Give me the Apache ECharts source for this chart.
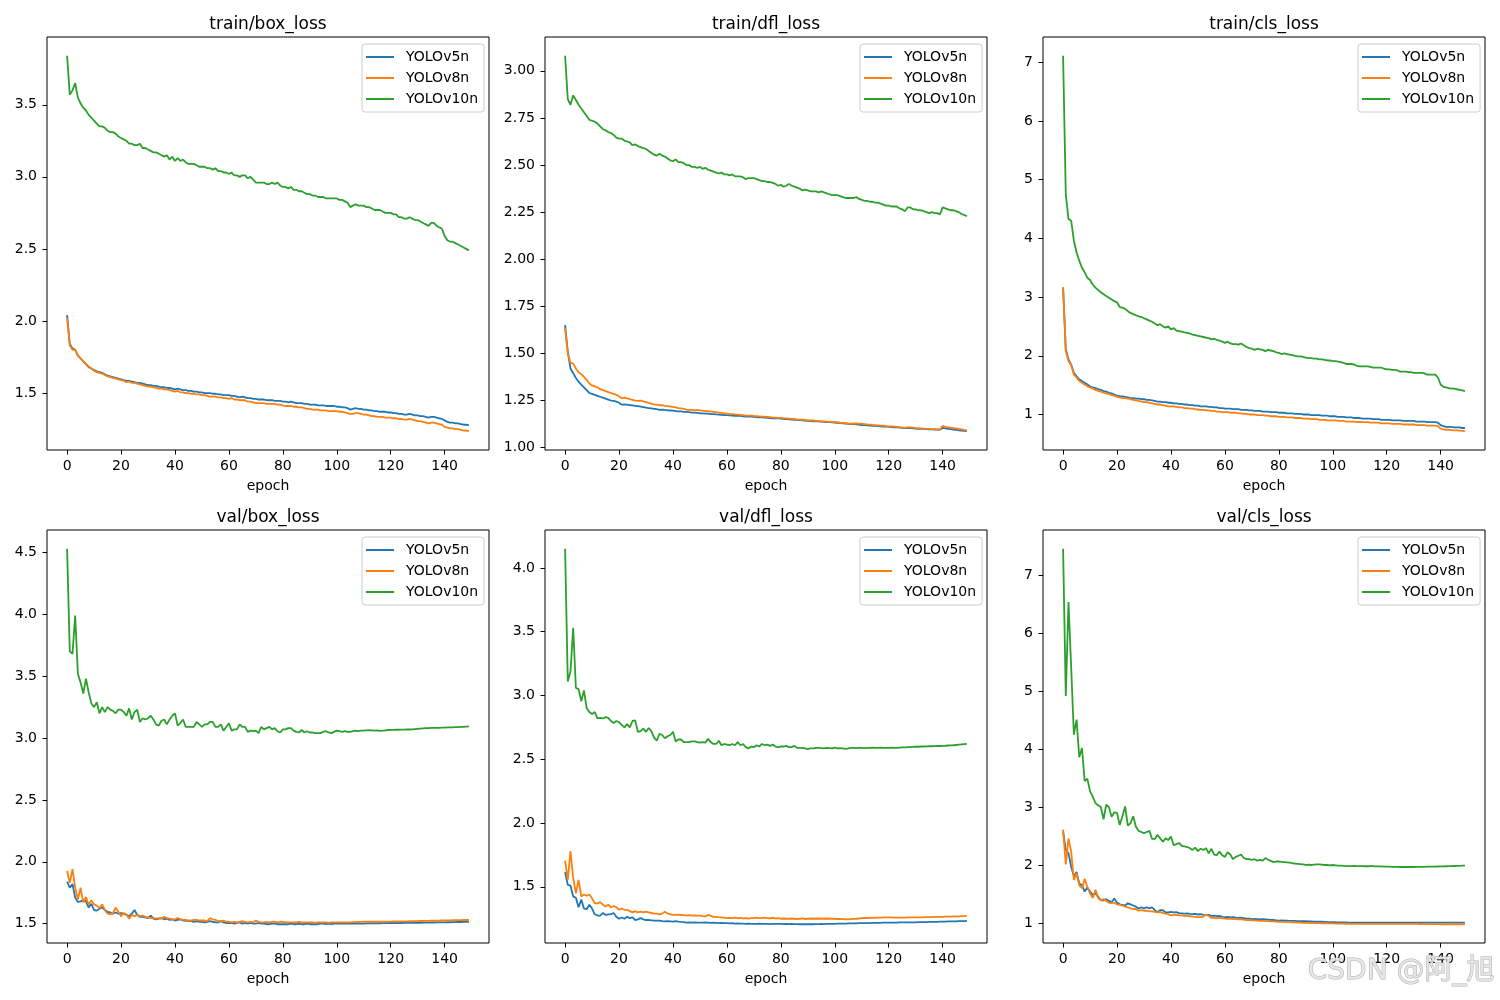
<!DOCTYPE html>
<html><head><meta charset="utf-8">
<script src="https://cdn.jsdelivr.net/npm/echarts@6/dist/echarts.min.js"></script>
<style>html,body{margin:0;padding:0;background:#fff}#c{width:1500px;height:1000px}</style>
</head><body><div id="c"></div>
<script>
const seriesNames = ['YOLOv5n', 'YOLOv8n', 'YOLOv10n'];
const colors = ['#1f77b4', '#ff7f0e', '#2ca02c'];
const panelTitles = ['train/box_loss', 'train/dfl_loss', 'train/cls_loss', 'val/box_loss', 'val/dfl_loss', 'val/cls_loss'];
const xTicks = [0, 20, 40, 60, 80, 100, 120, 140];
const yTicks = [
  [1.5, 2.0, 2.5, 3.0, 3.5],
  [1.00, 1.25, 1.50, 1.75, 2.00, 2.25, 2.50, 2.75, 3.00],
  [1, 2, 3, 4, 5, 6, 7],
  [1.5, 2.0, 2.5, 3.0, 3.5, 4.0, 4.5],
  [1.5, 2.0, 2.5, 3.0, 3.5, 4.0],
  [1, 2, 3, 4, 5, 6, 7]
];
const yDecimals = [1, 2, 0, 1, 1, 0];

// train/box_loss
const trainBox_v5 = [
2.04,1.84,1.81,1.80,1.76,1.74,1.72,1.70,1.68,1.67,
1.66,1.65,1.645,1.64,1.63,1.62,1.615,1.61,1.605,1.60,
1.595,1.59,1.585,1.585,1.58,1.575,1.57,1.57,1.565,1.56,
1.555,1.555,1.55,1.55,1.545,1.54,1.54,1.535,1.535,1.53,
1.525,1.53,1.525,1.52,1.52,1.515,1.515,1.51,1.51,1.505,
1.505,1.50,1.50,1.50,1.495,1.495,1.49,1.49,1.485,1.485,
1.485,1.48,1.48,1.475,1.47,1.475,1.47,1.465,1.465,1.46,
1.46,1.455,1.455,1.455,1.45,1.45,1.45,1.445,1.445,1.445,
1.44,1.44,1.435,1.44,1.435,1.43,1.43,1.43,1.425,1.425,
1.42,1.42,1.42,1.415,1.415,1.415,1.41,1.41,1.41,1.41,
1.405,1.405,1.40,1.40,1.395,1.385,1.39,1.395,1.39,1.39,
1.385,1.385,1.38,1.38,1.375,1.375,1.37,1.37,1.37,1.365,
1.365,1.36,1.36,1.355,1.355,1.35,1.35,1.355,1.35,1.345,
1.345,1.34,1.34,1.335,1.33,1.335,1.335,1.33,1.325,1.32,
1.31,1.30,1.295,1.295,1.29,1.29,1.285,1.28,1.28,1.275];
const trainBox_v8 = [
2.02,1.83,1.80,1.80,1.76,1.74,1.72,1.70,1.685,1.67,
1.655,1.645,1.64,1.635,1.625,1.615,1.61,1.605,1.60,1.595,
1.59,1.585,1.575,1.58,1.57,1.57,1.565,1.56,1.555,1.55,
1.545,1.545,1.54,1.535,1.53,1.53,1.525,1.525,1.52,1.515,
1.51,1.515,1.505,1.505,1.50,1.50,1.495,1.495,1.49,1.49,
1.485,1.485,1.48,1.475,1.475,1.475,1.47,1.47,1.465,1.465,
1.46,1.465,1.455,1.455,1.45,1.45,1.45,1.44,1.44,1.435,
1.43,1.43,1.43,1.43,1.425,1.425,1.425,1.425,1.42,1.42,
1.415,1.41,1.41,1.41,1.405,1.405,1.40,1.40,1.395,1.39,
1.39,1.385,1.385,1.385,1.38,1.38,1.38,1.375,1.375,1.375,
1.375,1.37,1.37,1.365,1.36,1.355,1.355,1.36,1.36,1.355,
1.35,1.35,1.345,1.34,1.34,1.335,1.335,1.335,1.33,1.33,
1.33,1.325,1.325,1.32,1.32,1.315,1.315,1.32,1.315,1.31,
1.305,1.305,1.30,1.295,1.29,1.295,1.295,1.29,1.285,1.28,
1.265,1.26,1.255,1.255,1.25,1.25,1.245,1.24,1.24,1.235];
const trainBox_v10 = [
3.84,3.57,3.60,3.65,3.55,3.51,3.48,3.46,3.43,3.41,
3.39,3.37,3.35,3.35,3.34,3.32,3.31,3.31,3.30,3.28,
3.27,3.26,3.25,3.23,3.23,3.22,3.22,3.23,3.20,3.20,
3.19,3.18,3.17,3.17,3.16,3.15,3.14,3.15,3.12,3.14,
3.11,3.13,3.11,3.12,3.10,3.09,3.09,3.09,3.08,3.07,
3.07,3.07,3.06,3.06,3.05,3.06,3.04,3.04,3.03,3.03,
3.02,3.03,3.01,3.01,3.00,3.01,3.01,2.99,3.00,2.98,
2.96,2.96,2.96,2.96,2.95,2.95,2.96,2.95,2.96,2.94,
2.93,2.93,2.92,2.93,2.91,2.91,2.90,2.90,2.89,2.88,
2.88,2.87,2.87,2.86,2.86,2.86,2.85,2.85,2.85,2.85,
2.85,2.84,2.84,2.83,2.82,2.79,2.80,2.81,2.80,2.80,
2.80,2.79,2.79,2.78,2.77,2.77,2.77,2.76,2.75,2.75,
2.75,2.74,2.74,2.72,2.72,2.71,2.71,2.72,2.71,2.70,
2.70,2.69,2.68,2.67,2.66,2.68,2.68,2.66,2.65,2.64,
2.59,2.56,2.55,2.55,2.54,2.53,2.52,2.51,2.50,2.49];

// train/dfl_loss
const trainDfl_v5 = [
1.65,1.51,1.42,1.395,1.37,1.35,1.335,1.32,1.305,1.29,
1.285,1.28,1.275,1.27,1.265,1.26,1.255,1.25,1.248,1.244,
1.238,1.228,1.23,1.228,1.226,1.224,1.222,1.22,1.218,1.215,
1.212,1.21,1.208,1.206,1.204,1.20,1.202,1.20,1.198,1.197,
1.196,1.194,1.192,1.192,1.19,1.19,1.188,1.186,1.186,1.184,
1.182,1.182,1.18,1.18,1.178,1.178,1.176,1.175,1.174,1.173,
1.172,1.171,1.17,1.169,1.168,1.168,1.166,1.165,1.164,1.164,
1.163,1.162,1.161,1.16,1.159,1.158,1.157,1.156,1.155,1.155,
1.154,1.152,1.151,1.15,1.149,1.148,1.147,1.146,1.145,1.144,
1.142,1.141,1.14,1.14,1.139,1.138,1.137,1.136,1.135,1.134,
1.133,1.132,1.13,1.129,1.128,1.126,1.125,1.125,1.124,1.122,
1.12,1.119,1.118,1.117,1.116,1.115,1.114,1.113,1.112,1.111,
1.11,1.109,1.108,1.107,1.106,1.105,1.104,1.104,1.103,1.102,
1.101,1.10,1.099,1.099,1.098,1.097,1.097,1.096,1.096,1.095,
1.105,1.102,1.10,1.098,1.096,1.094,1.092,1.09,1.089,1.087];
const trainDfl_v8 = [
1.635,1.50,1.45,1.446,1.42,1.40,1.39,1.375,1.36,1.34,
1.33,1.325,1.32,1.31,1.305,1.30,1.295,1.29,1.285,1.28,
1.273,1.262,1.265,1.262,1.258,1.254,1.25,1.248,1.25,1.246,
1.242,1.238,1.234,1.23,1.228,1.225,1.226,1.222,1.22,1.218,
1.216,1.214,1.21,1.208,1.206,1.202,1.20,1.20,1.198,1.20,
1.198,1.196,1.194,1.193,1.192,1.19,1.188,1.186,1.184,1.182,
1.18,1.178,1.178,1.176,1.175,1.174,1.172,1.17,1.17,1.17,
1.168,1.167,1.166,1.165,1.164,1.163,1.162,1.16,1.159,1.158,
1.158,1.156,1.155,1.154,1.153,1.152,1.15,1.149,1.148,1.147,
1.145,1.145,1.144,1.142,1.141,1.14,1.139,1.138,1.137,1.136,
1.136,1.134,1.132,1.131,1.13,1.128,1.127,1.128,1.128,1.127,
1.127,1.125,1.123,1.122,1.12,1.119,1.118,1.117,1.116,1.114,
1.113,1.112,1.111,1.11,1.108,1.107,1.105,1.108,1.107,1.106,
1.104,1.103,1.102,1.101,1.10,1.099,1.098,1.098,1.097,1.096,
1.115,1.11,1.108,1.106,1.104,1.102,1.10,1.097,1.094,1.092];
const trainDfl_v10 = [
3.08,2.85,2.82,2.87,2.845,2.82,2.80,2.78,2.76,2.74,
2.735,2.73,2.72,2.705,2.69,2.685,2.675,2.67,2.66,2.645,
2.64,2.64,2.63,2.625,2.62,2.605,2.61,2.60,2.595,2.59,
2.585,2.575,2.565,2.555,2.55,2.56,2.55,2.545,2.535,2.525,
2.52,2.53,2.515,2.515,2.51,2.50,2.50,2.49,2.49,2.485,
2.49,2.48,2.485,2.475,2.47,2.465,2.46,2.455,2.46,2.45,
2.45,2.445,2.45,2.44,2.44,2.44,2.435,2.425,2.43,2.43,
2.43,2.425,2.42,2.415,2.415,2.41,2.41,2.405,2.40,2.39,
2.395,2.385,2.39,2.40,2.39,2.385,2.38,2.375,2.365,2.37,
2.365,2.36,2.36,2.36,2.355,2.36,2.355,2.35,2.345,2.34,
2.34,2.34,2.335,2.33,2.325,2.325,2.325,2.325,2.33,2.32,
2.315,2.31,2.31,2.305,2.305,2.30,2.30,2.295,2.29,2.285,
2.285,2.28,2.28,2.28,2.27,2.265,2.255,2.275,2.275,2.265,
2.265,2.26,2.26,2.255,2.25,2.245,2.25,2.245,2.245,2.238,
2.275,2.27,2.265,2.26,2.26,2.255,2.25,2.24,2.235,2.228];

// train/cls_loss
const trainCls_v5 = [
3.16,2.11,1.94,1.85,1.71,1.65,1.60,1.57,1.54,1.51,
1.48,1.46,1.45,1.43,1.42,1.40,1.39,1.37,1.36,1.34,
1.32,1.31,1.31,1.30,1.29,1.28,1.28,1.27,1.27,1.26,
1.26,1.25,1.25,1.24,1.23,1.22,1.22,1.21,1.21,1.20,
1.20,1.19,1.19,1.18,1.18,1.17,1.17,1.16,1.16,1.15,
1.15,1.14,1.14,1.14,1.13,1.13,1.12,1.12,1.11,1.11,
1.10,1.10,1.10,1.09,1.09,1.09,1.08,1.08,1.08,1.07,
1.07,1.06,1.06,1.06,1.05,1.05,1.05,1.04,1.04,1.04,
1.03,1.03,1.03,1.02,1.02,1.02,1.01,1.01,1.01,1.00,
1.00,1.00,0.99,0.99,0.99,0.99,0.98,0.98,0.98,0.97,
0.97,0.97,0.96,0.96,0.96,0.95,0.95,0.95,0.94,0.94,
0.94,0.93,0.93,0.93,0.93,0.92,0.92,0.92,0.91,0.91,
0.91,0.91,0.90,0.90,0.90,0.90,0.89,0.89,0.89,0.89,
0.89,0.88,0.88,0.88,0.88,0.87,0.87,0.87,0.87,0.86,
0.82,0.80,0.79,0.79,0.79,0.78,0.78,0.78,0.77,0.77];
const trainCls_v8 = [
3.17,2.08,1.91,1.84,1.68,1.63,1.57,1.54,1.51,1.48,
1.46,1.44,1.42,1.40,1.39,1.37,1.36,1.35,1.33,1.32,
1.30,1.29,1.28,1.28,1.27,1.26,1.25,1.24,1.23,1.22,
1.21,1.21,1.20,1.19,1.18,1.17,1.17,1.16,1.15,1.14,
1.14,1.14,1.13,1.12,1.12,1.11,1.11,1.10,1.10,1.09,
1.085,1.08,1.08,1.07,1.07,1.06,1.06,1.05,1.05,1.04,
1.04,1.04,1.03,1.03,1.03,1.02,1.02,1.01,1.01,1.00,
1.00,1.00,0.99,0.99,0.99,0.98,0.98,0.97,0.97,0.97,
0.96,0.96,0.96,0.95,0.95,0.95,0.94,0.94,0.94,0.93,
0.93,0.93,0.92,0.92,0.92,0.91,0.91,0.91,0.90,0.90,
0.90,0.90,0.89,0.89,0.89,0.88,0.88,0.88,0.88,0.87,
0.875,0.87,0.87,0.87,0.86,0.86,0.86,0.86,0.85,0.85,
0.85,0.85,0.84,0.84,0.84,0.84,0.83,0.83,0.83,0.83,
0.83,0.82,0.82,0.82,0.82,0.81,0.81,0.81,0.81,0.80,
0.76,0.745,0.74,0.74,0.735,0.73,0.73,0.725,0.72,0.715];
const trainCls_v10 = [
7.11,4.75,4.33,4.30,3.96,3.76,3.62,3.50,3.42,3.33,
3.29,3.21,3.16,3.12,3.08,3.05,3.02,2.99,2.96,2.93,
2.91,2.83,2.82,2.80,2.76,2.73,2.71,2.69,2.67,2.66,
2.64,2.62,2.60,2.58,2.55,2.52,2.54,2.50,2.48,2.50,
2.45,2.47,2.43,2.42,2.41,2.40,2.39,2.38,2.36,2.35,
2.34,2.33,2.32,2.31,2.30,2.28,2.29,2.27,2.26,2.24,
2.22,2.24,2.21,2.20,2.20,2.19,2.21,2.18,2.15,2.13,
2.12,2.10,2.12,2.11,2.10,2.08,2.10,2.09,2.08,2.06,
2.05,2.03,2.04,2.03,2.02,2.01,2.00,1.99,1.99,1.98,
1.97,1.96,1.96,1.95,1.95,1.94,1.94,1.93,1.92,1.92,
1.91,1.91,1.90,1.89,1.88,1.86,1.86,1.86,1.85,1.83,
1.82,1.82,1.82,1.82,1.81,1.80,1.80,1.80,1.80,1.78,
1.77,1.77,1.76,1.76,1.75,1.73,1.73,1.73,1.72,1.72,
1.71,1.71,1.71,1.71,1.70,1.68,1.68,1.68,1.68,1.63,
1.51,1.47,1.46,1.45,1.44,1.44,1.43,1.42,1.41,1.40];

// val/box_loss
const valBox_v5 = [
1.84,1.79,1.82,1.71,1.675,1.68,1.69,1.68,1.63,1.66,
1.61,1.605,1.62,1.63,1.61,1.595,1.59,1.58,1.59,1.58,
1.585,1.58,1.57,1.56,1.58,1.61,1.57,1.555,1.555,1.55,
1.545,1.565,1.54,1.535,1.54,1.545,1.535,1.54,1.53,1.535,
1.525,1.53,1.535,1.525,1.525,1.52,1.52,1.515,1.52,1.515,
1.515,1.51,1.515,1.52,1.515,1.51,1.51,1.52,1.51,1.505,
1.505,1.505,1.50,1.505,1.51,1.50,1.505,1.50,1.505,1.50,
1.50,1.505,1.50,1.50,1.495,1.495,1.50,1.50,1.495,1.495,
1.495,1.495,1.495,1.50,1.495,1.495,1.50,1.495,1.495,1.50,
1.495,1.495,1.495,1.495,1.50,1.50,1.495,1.50,1.495,1.50,
1.50,1.50,1.50,1.50,1.50,1.50,1.50,1.50,1.50,1.50,
1.50,1.502,1.502,1.502,1.503,1.503,1.503,1.504,1.504,1.504,
1.505,1.505,1.505,1.505,1.505,1.506,1.506,1.506,1.506,1.507,
1.507,1.507,1.508,1.508,1.508,1.509,1.509,1.51,1.51,1.51,
1.51,1.511,1.511,1.512,1.512,1.513,1.513,1.514,1.514,1.515];
const valBox_v8 = [
1.925,1.83,1.94,1.79,1.695,1.79,1.67,1.715,1.655,1.69,
1.655,1.645,1.625,1.655,1.61,1.58,1.575,1.585,1.63,1.595,
1.56,1.585,1.575,1.54,1.57,1.56,1.57,1.56,1.565,1.555,
1.55,1.545,1.545,1.54,1.545,1.54,1.555,1.545,1.54,1.535,
1.535,1.545,1.535,1.53,1.53,1.525,1.525,1.53,1.53,1.525,
1.525,1.525,1.52,1.545,1.535,1.53,1.52,1.52,1.525,1.515,
1.515,1.51,1.515,1.51,1.515,1.52,1.515,1.51,1.515,1.51,
1.525,1.515,1.51,1.51,1.515,1.51,1.515,1.515,1.51,1.515,
1.515,1.51,1.51,1.51,1.51,1.51,1.515,1.51,1.51,1.51,
1.51,1.51,1.505,1.51,1.51,1.51,1.51,1.505,1.51,1.51,
1.51,1.51,1.51,1.51,1.51,1.51,1.512,1.512,1.513,1.514,
1.515,1.515,1.515,1.515,1.515,1.515,1.515,1.516,1.516,1.516,
1.516,1.517,1.517,1.517,1.518,1.518,1.518,1.519,1.519,1.52,
1.52,1.521,1.521,1.522,1.522,1.523,1.523,1.524,1.524,1.525,
1.525,1.526,1.526,1.527,1.527,1.528,1.528,1.529,1.529,1.53];
const valBox_v10 = [
4.53,3.70,3.68,3.99,3.52,3.45,3.36,3.48,3.37,3.28,
3.25,3.29,3.20,3.25,3.21,3.25,3.23,3.22,3.20,3.23,
3.23,3.21,3.18,3.24,3.15,3.21,3.23,3.13,3.16,3.15,
3.16,3.18,3.15,3.11,3.10,3.14,3.15,3.11,3.15,3.18,
3.20,3.10,3.12,3.15,3.09,3.09,3.09,3.09,3.13,3.11,
3.09,3.11,3.11,3.13,3.13,3.09,3.09,3.11,3.06,3.09,
3.12,3.06,3.07,3.07,3.11,3.09,3.09,3.05,3.06,3.055,
3.06,3.04,3.09,3.07,3.08,3.09,3.07,3.08,3.055,3.045,
3.07,3.07,3.08,3.08,3.06,3.05,3.045,3.065,3.045,3.055,
3.045,3.045,3.04,3.04,3.04,3.05,3.055,3.045,3.04,3.05,
3.06,3.055,3.05,3.055,3.05,3.05,3.055,3.06,3.055,3.06,
3.06,3.062,3.064,3.062,3.06,3.062,3.058,3.06,3.062,3.065,
3.066,3.066,3.068,3.067,3.068,3.068,3.07,3.069,3.07,3.072,
3.074,3.076,3.078,3.08,3.08,3.082,3.082,3.083,3.083,3.084,
3.085,3.086,3.086,3.087,3.088,3.089,3.09,3.091,3.093,3.095];

// val/dfl_loss
const valDfl_v5 = [
1.615,1.515,1.51,1.425,1.415,1.34,1.40,1.33,1.325,1.36,
1.33,1.285,1.275,1.275,1.295,1.28,1.285,1.285,1.295,1.265,
1.25,1.26,1.25,1.265,1.255,1.26,1.24,1.245,1.255,1.245,
1.24,1.24,1.238,1.236,1.235,1.235,1.232,1.23,1.232,1.23,
1.228,1.232,1.228,1.225,1.224,1.22,1.222,1.22,1.221,1.22,
1.22,1.22,1.222,1.22,1.218,1.22,1.218,1.215,1.218,1.215,
1.215,1.214,1.215,1.212,1.213,1.212,1.212,1.21,1.212,1.21,
1.21,1.21,1.212,1.21,1.21,1.21,1.208,1.21,1.21,1.21,
1.21,1.208,1.209,1.208,1.21,1.208,1.208,1.207,1.208,1.207,
1.207,1.208,1.207,1.208,1.208,1.209,1.208,1.209,1.209,1.21,
1.21,1.212,1.211,1.212,1.212,1.213,1.213,1.214,1.214,1.215,
1.215,1.215,1.216,1.216,1.217,1.217,1.218,1.218,1.219,1.219,
1.22,1.22,1.22,1.22,1.221,1.221,1.221,1.221,1.222,1.222,
1.222,1.223,1.223,1.224,1.224,1.225,1.225,1.226,1.226,1.227,
1.228,1.228,1.229,1.229,1.23,1.23,1.231,1.232,1.232,1.233];
const valDfl_v8 = [
1.705,1.555,1.78,1.57,1.45,1.555,1.425,1.44,1.43,1.44,
1.41,1.37,1.37,1.38,1.36,1.345,1.36,1.34,1.35,1.34,
1.32,1.33,1.32,1.32,1.31,1.30,1.31,1.30,1.305,1.30,
1.305,1.30,1.295,1.29,1.29,1.285,1.29,1.305,1.29,1.285,
1.28,1.28,1.282,1.28,1.278,1.275,1.278,1.275,1.276,1.274,
1.275,1.27,1.268,1.28,1.272,1.265,1.265,1.262,1.26,1.258,
1.255,1.256,1.255,1.258,1.254,1.256,1.252,1.255,1.25,1.255,
1.255,1.258,1.255,1.256,1.258,1.255,1.254,1.256,1.252,1.255,
1.25,1.252,1.25,1.25,1.252,1.25,1.248,1.25,1.252,1.248,
1.25,1.25,1.252,1.25,1.252,1.25,1.25,1.252,1.25,1.25,
1.25,1.248,1.248,1.247,1.246,1.245,1.247,1.249,1.25,1.252,
1.255,1.256,1.256,1.257,1.257,1.258,1.258,1.259,1.26,1.26,
1.26,1.26,1.258,1.258,1.258,1.259,1.259,1.26,1.26,1.26,
1.26,1.261,1.261,1.262,1.262,1.263,1.263,1.264,1.264,1.265,
1.265,1.266,1.266,1.267,1.268,1.268,1.269,1.27,1.271,1.272];
const valDfl_v10 = [
4.15,3.11,3.19,3.53,3.06,3.05,2.955,3.04,2.90,2.87,
2.855,2.87,2.82,2.825,2.82,2.83,2.825,2.80,2.785,2.80,
2.79,2.77,2.75,2.775,2.75,2.80,2.805,2.715,2.72,2.74,
2.715,2.745,2.72,2.67,2.645,2.70,2.69,2.665,2.68,2.69,
2.715,2.64,2.655,2.655,2.635,2.635,2.635,2.64,2.64,2.635,
2.63,2.635,2.63,2.66,2.635,2.62,2.62,2.645,2.61,2.62,
2.615,2.61,2.62,2.61,2.635,2.61,2.62,2.595,2.585,2.60,
2.595,2.61,2.60,2.62,2.61,2.615,2.605,2.615,2.60,2.595,
2.60,2.60,2.605,2.595,2.595,2.605,2.59,2.59,2.59,2.585,
2.58,2.585,2.585,2.59,2.59,2.588,2.585,2.59,2.588,2.585,
2.592,2.585,2.588,2.585,2.582,2.585,2.59,2.59,2.588,2.59,
2.59,2.588,2.59,2.59,2.592,2.59,2.59,2.592,2.59,2.59,
2.59,2.592,2.59,2.59,2.592,2.593,2.594,2.595,2.596,2.597,
2.598,2.598,2.60,2.60,2.601,2.602,2.602,2.603,2.604,2.604,
2.605,2.606,2.608,2.609,2.61,2.612,2.614,2.616,2.618,2.62];

// val/cls_loss
const valCls_v5 = [
2.58,2.26,2.20,1.97,1.81,1.88,1.68,1.65,1.54,1.61,
1.54,1.48,1.51,1.45,1.39,1.39,1.41,1.38,1.36,1.42,
1.35,1.32,1.31,1.30,1.34,1.32,1.30,1.28,1.25,1.27,
1.25,1.27,1.25,1.27,1.22,1.19,1.22,1.22,1.18,1.18,
1.19,1.18,1.185,1.17,1.165,1.16,1.165,1.155,1.15,1.155,
1.145,1.15,1.14,1.135,1.14,1.12,1.125,1.115,1.12,1.105,
1.10,1.105,1.095,1.10,1.09,1.085,1.09,1.08,1.075,1.075,
1.065,1.07,1.065,1.06,1.065,1.06,1.055,1.05,1.05,1.045,
1.04,1.045,1.04,1.04,1.035,1.035,1.035,1.03,1.03,1.03,
1.03,1.025,1.025,1.02,1.02,1.02,1.02,1.018,1.016,1.015,
1.015,1.012,1.01,1.01,1.008,1.008,1.006,1.006,1.005,1.005,
1.005,1.005,1.004,1.004,1.004,1.004,1.004,1.004,1.004,1.005,
1.005,1.005,1.005,1.005,1.005,1.005,1.005,1.005,1.005,1.005,
1.005,1.005,1.005,1.005,1.005,1.005,1.005,1.005,1.005,1.005,
1.005,1.005,1.005,1.005,1.005,1.005,1.005,1.005,1.005,1.005];
const valCls_v8 = [
2.61,2.01,2.46,2.23,1.74,1.86,1.65,1.60,1.76,1.62,
1.51,1.43,1.57,1.43,1.39,1.41,1.38,1.35,1.34,1.35,
1.32,1.31,1.30,1.28,1.27,1.25,1.24,1.24,1.21,1.22,
1.21,1.21,1.20,1.20,1.19,1.18,1.19,1.17,1.16,1.15,
1.13,1.14,1.14,1.13,1.13,1.12,1.12,1.115,1.11,1.105,
1.10,1.10,1.11,1.145,1.12,1.085,1.09,1.08,1.085,1.08,
1.075,1.07,1.075,1.065,1.065,1.06,1.06,1.055,1.05,1.05,
1.045,1.045,1.04,1.035,1.035,1.03,1.03,1.028,1.025,1.022,
1.02,1.018,1.016,1.014,1.012,1.01,1.008,1.006,1.004,1.002,
1.00,1.00,0.998,0.997,0.996,0.995,0.994,0.993,0.992,0.991,
0.99,0.989,0.988,0.987,0.986,0.985,0.985,0.984,0.984,0.983,
0.983,0.983,0.983,0.983,0.983,0.983,0.983,0.983,0.983,0.983,
0.983,0.983,0.983,0.983,0.983,0.983,0.983,0.983,0.983,0.983,
0.982,0.982,0.981,0.981,0.98,0.98,0.979,0.979,0.978,0.978,
0.977,0.977,0.977,0.977,0.977,0.977,0.977,0.977,0.977,0.977];
const valCls_v10 = [
7.46,4.92,6.54,5.41,4.25,4.51,3.86,4.02,3.45,3.49,
3.27,3.18,3.07,3.03,3.00,2.79,3.04,3.00,2.83,2.91,
2.90,2.69,2.84,3.01,2.68,2.72,2.84,2.66,2.59,2.57,
2.55,2.57,2.59,2.45,2.45,2.52,2.46,2.40,2.46,2.43,
2.49,2.34,2.36,2.38,2.33,2.32,2.31,2.29,2.26,2.30,
2.24,2.28,2.26,2.29,2.20,2.28,2.18,2.17,2.23,2.17,
2.14,2.22,2.18,2.10,2.14,2.16,2.18,2.12,2.10,2.10,
2.09,2.10,2.075,2.09,2.075,2.12,2.09,2.07,2.05,2.06,
2.06,2.055,2.05,2.045,2.04,2.03,2.025,2.02,2.015,2.01,
2.00,2.005,2.00,2.005,2.01,2.01,2.005,2.00,2.00,1.995,
2.00,1.995,1.99,1.99,1.985,1.98,1.98,1.98,1.982,1.98,
1.98,1.98,1.978,1.978,1.98,1.98,1.976,1.975,1.975,1.972,
1.97,1.97,1.968,1.968,1.966,1.965,1.965,1.965,1.965,1.965,
1.965,1.966,1.966,1.967,1.968,1.97,1.97,1.972,1.972,1.974,
1.975,1.976,1.978,1.979,1.98,1.982,1.984,1.986,1.988,1.99];

const panelData = [
  [trainBox_v5, trainBox_v8, trainBox_v10],
  [trainDfl_v5, trainDfl_v8, trainDfl_v10],
  [trainCls_v5, trainCls_v8, trainCls_v10],
  [valBox_v5, valBox_v8, valBox_v10],
  [valDfl_v5, valDfl_v8, valDfl_v10],
  [valCls_v5, valCls_v8, valCls_v10]
];

const FONT = 'DejaVu Sans';
const colLeft = [47, 545, 1043];
const rowTop = [37, 530];
const gridW = 442, gridH = 413;

const grids = [], xAxes = [], yAxes = [], series = [], titles = [], legends = [];
for (let p = 0; p < 6; p++) {
  const c = p % 3, r = Math.floor(p / 3);
  const left = colLeft[c], top = rowTop[r];
  grids.push({left: left, top: top, width: gridW, height: gridH, show: true, borderColor: '#000', borderWidth: 1, backgroundColor: 'transparent', containLabel: false});
  xAxes.push({
    type: 'value', gridIndex: p,
    min: e => e.min - (e.max - e.min) * 0.05,
    max: e => e.max + (e.max - e.min) * 0.05,
    axisLine: {show: false, onZero: false},
    splitLine: {show: false},
    axisTick: {show: true, inside: false, length: 4.5, lineStyle: {color: '#000', width: 1}, customValues: xTicks},
    axisLabel: {show: true, margin: 9, color: '#000', fontFamily: FONT, fontSize: 14, customValues: xTicks, formatter: v => String(v)},
    name: 'epoch', nameLocation: 'middle', nameGap: 29,
    nameTextStyle: {color: '#000', fontFamily: FONT, fontSize: 14}
  });
  const dec = yDecimals[p];
  yAxes.push({
    type: 'value', gridIndex: p, scale: true,
    min: e => e.min - (e.max - e.min) * 0.05,
    max: e => e.max + (e.max - e.min) * 0.05,
    axisLine: {show: false, onZero: false},
    splitLine: {show: false},
    axisTick: {show: true, inside: false, length: 4.5, lineStyle: {color: '#000', width: 1}, customValues: yTicks[p]},
    axisLabel: {show: true, margin: 10, color: '#000', fontFamily: FONT, fontSize: 14, customValues: yTicks[p], formatter: v => Number(v).toFixed(dec)}
  });
  for (let s = 0; s < 3; s++) {
    series.push({
      type: 'line', name: seriesNames[s], xAxisIndex: p, yAxisIndex: p,
      data: panelData[p][s].map((v, i) => [i, v]),
      showSymbol: false, symbol: 'none', smooth: false, animation: false,
      lineStyle: {color: colors[s], width: 1.8},
      itemStyle: {color: colors[s]},
      z: 2 + s
    });
  }
  titles.push({
    text: panelTitles[p], left: left + gridW / 2, top: top - 21, textAlign: 'center', padding: 0,
    textStyle: {color: '#000', fontFamily: FONT, fontSize: 17, fontWeight: 'normal'}
  });
  legends.push({
    orient: 'vertical', left: left + 315, top: top + 7,
    data: seriesNames.map(n => ({name: n, icon: 'rect'})),
    itemWidth: 28, itemHeight: 2, itemGap: 7,
    padding: [6, 6, 6, 4],
    backgroundColor: 'rgba(255,255,255,0.8)', borderColor: '#cccccc', borderWidth: 1, borderRadius: 3,
    selectedMode: false,
    textStyle: {color: '#000', fontFamily: FONT, fontSize: 14, lineHeight: 14, padding: [0, 0, 0, 7]}
  });
}

const chart = echarts.init(document.getElementById('c'), null, {renderer: 'canvas'});
chart.setOption({
  backgroundColor: '#fff',
  animation: false,
  color: colors,
  title: titles,
  legend: legends,
  grid: grids,
  xAxis: xAxes,
  yAxis: yAxes,
  series: series,
  graphic: [{
    type: 'text', right: 5, bottom: 14, z: 100,
    style: {text: 'CSDN @阿_旭', fontFamily: 'DejaVu Sans, Noto Sans CJK SC', fontSize: 28, fill: 'rgba(228,228,228,0.9)', stroke: '#b0b0b0', lineWidth: 1}
  }]
});
</script>
</body></html>
